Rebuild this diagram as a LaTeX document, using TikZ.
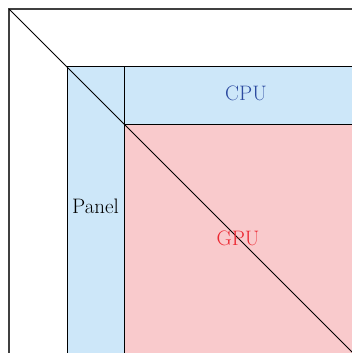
\documentclass[tikz,border=0pt]{standalone}
\usepackage{fontspec}
\usetikzlibrary{positioning}
\definecolor{panelblue}{RGB}{205,231,249}
\definecolor{gpupink}{RGB}{249,202,204}
\definecolor{cpublue}{RGB}{44,74,160}
\definecolor{gpured}{RGB}{236,40,50}
\tikzset{
  region/.style={draw=black,line width=0.9pt},
  tag/.style={font=\fontsize{21}{24}\selectfont,inner sep=0pt}
}
\begin{document}
\begin{tikzpicture}[x=1bp,y=-1bp]
      \useasboundingbox (0,0) rectangle (352,353);
      \clip (0,0) rectangle (352,353);
      % outer frame
      \draw[line width=1.2pt,black!75] (9,360) -- (9,9) -- (360,9);
      % regions
      \draw[region,fill=panelblue] (67,66) rectangle (124,360);
      \draw[region,fill=panelblue] (124,66) rectangle (360,124);
      \draw[region,fill=gpupink] (124,124) rectangle (360,360);
      % diagonal
      \draw[line width=0.8pt] (9,9) -- (360,360);
      \draw
        (95.5,206) node[tag] (panel){Panel}
        (246,93) node[tag,text=cpublue] (cpu){CPU}
        (238,238) node[tag,text=gpured] (gpu){GPU};
    \end{tikzpicture}
\end{document}
